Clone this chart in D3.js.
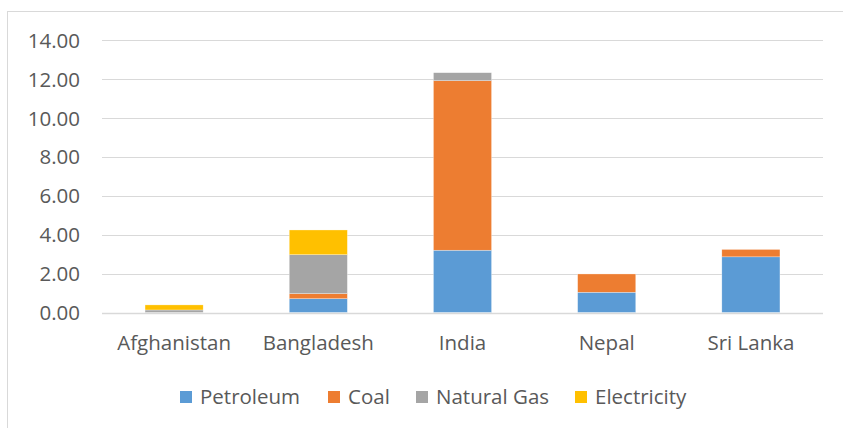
<!DOCTYPE html>
<html>
<head>
<meta charset="utf-8">
<script src="https://cdn.jsdelivr.net/npm/d3@7"></script>
<style>
  html, body { margin: 0; padding: 0; background: #fff; }
  svg { display: block; }
  text { font-family: "Open Sans", "Liberation Sans", sans-serif; fill: #595959; }
</style>
</head>
<body>
<svg id="chart" width="843" height="428"></svg>
<script>
// Energy use by source, stacked per country
const countries = ["Afghanistan", "Bangladesh", "India", "Nepal", "Sri Lanka"];
const seriesNames = ["Petroleum", "Coal", "Natural Gas", "Electricity"];
const petroleum   = [0.00, 0.71, 3.20, 1.04, 2.86];
const coal        = [0.00, 0.26, 8.71, 0.94, 0.38];
const naturalGas  = [0.13, 2.00, 0.41, 0.00, 0.00];
const electricity = [0.26, 1.27, 0.00, 0.00, 0.00];
const yTicks = [0, 2, 4, 6, 8, 10, 12, 14];
const colors = ["#5B9BD5", "#ED7D31", "#A5A5A5", "#FFC000"];

const rows = countries.map((c, i) => ({
  country: c,
  "Petroleum": petroleum[i],
  "Coal": coal[i],
  "Natural Gas": naturalGas[i],
  "Electricity": electricity[i]
}));

const svg = d3.select("#chart");
const margin = { left: 102, right: 20, top: 40, bottom: 115.5 };
const W = 843, H = 428;
const fontSize = "20.5px";

// outer chart frame
svg.append("rect")
  .attr("x", 7.5).attr("y", 11.5)
  .attr("width", 843).attr("height", 430)
  .attr("fill", "none").attr("stroke", "#D9D9D9").attr("stroke-width", 1);

const x = d3.scaleBand().domain(countries)
  .range([margin.left, W - margin.right]).paddingInner(0.597).paddingOuter(0.2985);
const y = d3.scaleLinear().domain([0, 14]).range([H - margin.bottom, margin.top]);

// gridlines
svg.append("g").selectAll("line").data(yTicks).join("line")
  .attr("x1", margin.left).attr("x2", W - margin.right)
  .attr("y1", d => Math.round(y(d)) + 0.5).attr("y2", d => Math.round(y(d)) + 0.5)
  .attr("stroke", "#D9D9D9").attr("stroke-width", 1);

// y axis labels
const yAxis = d3.axisLeft(y).tickValues(yTicks).tickFormat(d3.format(".2f")).tickSize(0).tickPadding(0);
const gy = svg.append("g").attr("transform", `translate(80,0)`).call(yAxis);
gy.select(".domain").remove();
gy.selectAll("text").style("font-size", fontSize).attr("fill", "#595959")
  .attr("font-family", "'Open Sans', sans-serif").attr("dy", "0.35em");

// stacked bars
const stack = d3.stack().keys(seriesNames);
const layers = stack(rows);
svg.append("g").selectAll("g").data(layers).join("g")
  .attr("fill", (d, i) => colors[i])
  .selectAll("rect").data(d => d).join("rect")
  .attr("x", d => x(d.data.country))
  .attr("width", x.bandwidth())
  .attr("y", d => y(d[1]))
  .attr("height", d => Math.max(0, y(d[0]) - y(d[1])))
  .attr("stroke", "#fff").attr("stroke-width", 0.5).attr("stroke-opacity", 0.6);

// baseline
svg.append("line")
  .attr("x1", margin.left).attr("x2", W - margin.right)
  .attr("y1", Math.round(y(0)) + 0.5).attr("y2", Math.round(y(0)) + 0.5)
  .attr("stroke", "#D9D9D9").attr("stroke-width", 1.5);

// x axis labels
const xAxis = d3.axisBottom(x).tickSize(0).tickPadding(0);
const gx = svg.append("g").attr("transform", `translate(0,${y(0) + 23})`).call(xAxis);
gx.select(".domain").remove();
gx.selectAll("text").style("font-size", fontSize).attr("fill", "#595959")
  .attr("font-family", "'Open Sans', sans-serif").attr("dy", "0.71em");

// legend
const legendX = [180, 328, 416, 575];
const leg = svg.append("g").selectAll("g").data(seriesNames).join("g")
  .attr("transform", (d, i) => `translate(${legendX[i]},391)`);
leg.append("rect").attr("width", 12).attr("height", 12).attr("fill", (d, i) => colors[i]);
leg.append("text").attr("x", 20).attr("y", 6).attr("dy", "0.35em")
  .style("font-size", fontSize).text(d => d);
</script>
</body>
</html>
